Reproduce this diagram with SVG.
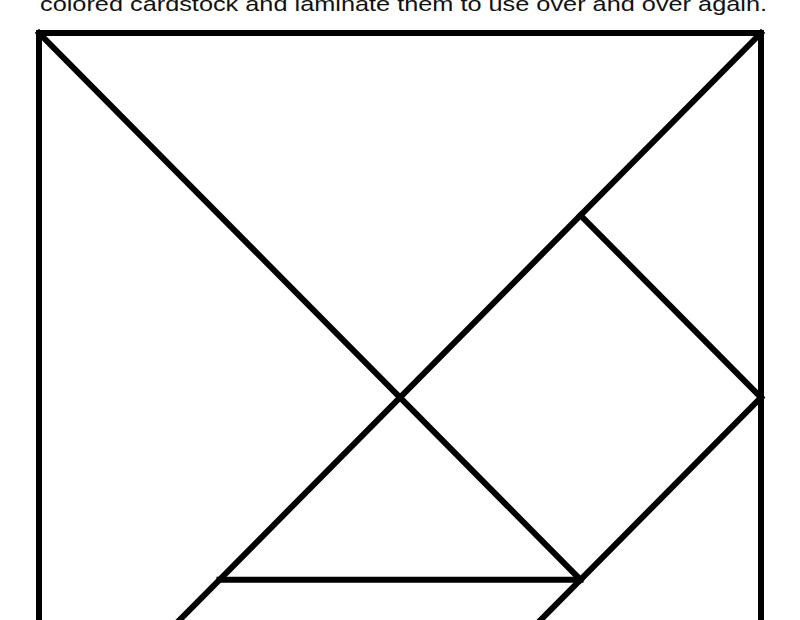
<svg xmlns="http://www.w3.org/2000/svg" width="800" height="620" viewBox="0 0 800 620">
<style>
.ln{stroke:#000;stroke-width:6;fill:none;stroke-linecap:square;stroke-linejoin:miter}
.cap{font-family:"Liberation Sans","DejaVu Sans",sans-serif;font-size:21px;fill:#111}
</style>
<rect width="800" height="620" fill="#fff"/>
<text class="cap" x="40" y="11" textLength="727" lengthAdjust="spacingAndGlyphs">colored cardstock and laminate them to use over and over again.</text>
<g id="tangram">
<rect class="ln" x="39" y="33" width="722" height="729"/>
<line class="ln" x1="39" y1="33" x2="580.5" y2="579.75"/>
<line class="ln" x1="761" y1="33" x2="39" y2="762"/>
<line class="ln" x1="580.5" y1="215.25" x2="761" y2="397.5"/>
<line class="ln" x1="761" y1="397.5" x2="400" y2="762"/>
<line class="ln" x1="219.5" y1="579.75" x2="580.5" y2="579.75"/>
</g>
</svg>
